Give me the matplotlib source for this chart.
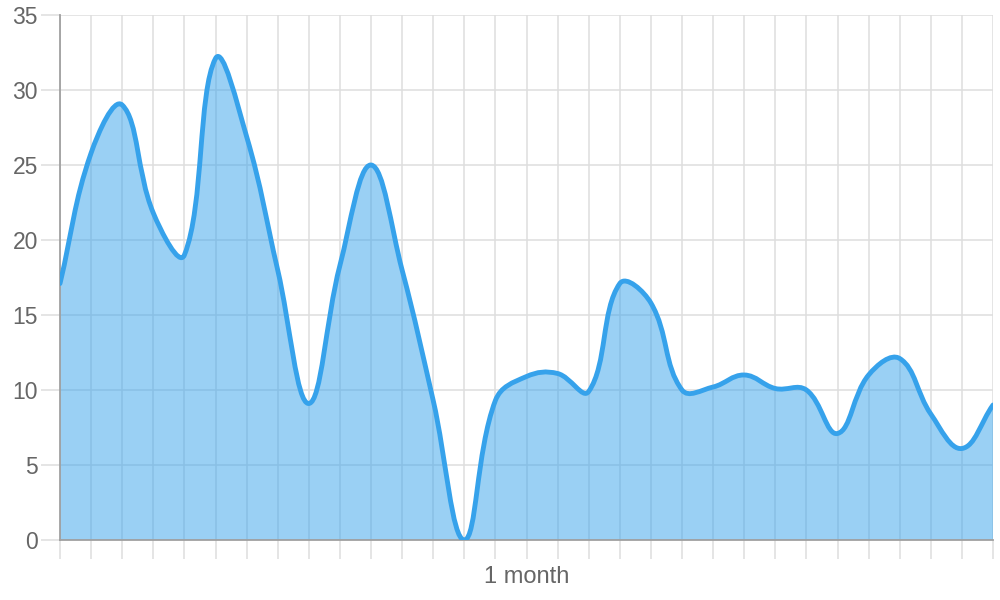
import matplotlib
matplotlib.use("Agg")
import matplotlib.pyplot as plt
import numpy as np
from matplotlib.path import Path
from matplotlib.patches import PathPatch

# one value per category (31 hidden labels)
values = [17.1, 25.8, 29.0, 21.8, 19.0, 32.1, 26.9, 18.0, 9.1, 18.3,
          25.0, 18.0, 9.3, 0.0, 9.3, 10.9, 11.1, 9.9, 17.1, 15.8,
          10.0, 10.2, 11.0, 10.1, 10.0, 7.1, 11.0, 12.1, 8.4, 6.1, 9.0]
y_ticks = [0, 5, 10, 15, 20, 25, 30, 35]
x_title = "1 month"

LINE = "#36A2EB"
TEXT = "#666666"
GRID = "#dedede"
AXIS = "#a0a0a0"
TENSION = 0.4
FONT = ["Liberation Sans", "DejaVu Sans"]


def spline_path(ax, xs, ys, tension=TENSION):
    # chart.js style bezier spline, control points computed in pixel space
    pts = ax.transData.transform(np.column_stack([xs, ys]))
    n = len(pts)
    cp_prev = np.zeros_like(pts)
    cp_next = np.zeros_like(pts)
    for i in range(n):
        cur = pts[i]
        prev = pts[i - 1] if i > 0 else cur
        nxt = pts[i + 1] if i < n - 1 else cur
        d01 = np.hypot(*(cur - prev))
        d12 = np.hypot(*(nxt - cur))
        tot = d01 + d12
        s01 = d01 / tot if tot else 0.0
        s12 = d12 / tot if tot else 0.0
        cp_prev[i] = cur - tension * s01 * (nxt - prev)
        cp_next[i] = cur + tension * s12 * (nxt - prev)
    verts = [pts[0]]
    codes = [Path.MOVETO]
    for i in range(n - 1):
        verts += [cp_next[i], cp_prev[i + 1], pts[i + 1]]
        codes += [Path.CURVE4] * 3
    inv = ax.transData.inverted()
    return inv.transform(np.array(verts)), codes


plt.rcParams["font.family"] = FONT

fig = plt.figure(figsize=(10, 6), dpi=100)
ax = fig.add_axes([0.06, 0.1, 0.933, 0.875])
x = np.arange(len(values))
ax.set_xlim(0, len(values) - 1)
ax.set_ylim(0, 35)

verts, codes = spline_path(ax, x, values)

# area under the curve
fill_verts = np.vstack([verts, [[x[-1], 0], [x[0], 0], verts[0]]])
fill_codes = codes + [Path.LINETO, Path.LINETO, Path.CLOSEPOLY]
ax.add_patch(PathPatch(Path(fill_verts, fill_codes), facecolor=LINE, alpha=0.5,
                       edgecolor="none", zorder=2))
ax.add_patch(PathPatch(Path(verts, codes), facecolor="none", edgecolor=LINE,
                       linewidth=3.5, capstyle="round", joinstyle="round", zorder=3))

ax.set_xticks(x)
ax.set_xticklabels([])
ax.set_yticks(y_ticks)
ax.grid(True, color=GRID, linewidth=1.1)
ax.set_axisbelow(True)
ax.tick_params(axis="both", length=14, width=1.1, color=GRID, labelcolor=TEXT,
               labelsize=16.5, pad=2)
for side in ("top", "right"):
    ax.spines[side].set_visible(False)
for side in ("left", "bottom"):
    ax.spines[side].set_color(AXIS)
    ax.spines[side].set_linewidth(1.3)
ax.set_xlabel(x_title, color=TEXT, fontsize=17, labelpad=3)

fig.savefig("out.png", dpi=100)
